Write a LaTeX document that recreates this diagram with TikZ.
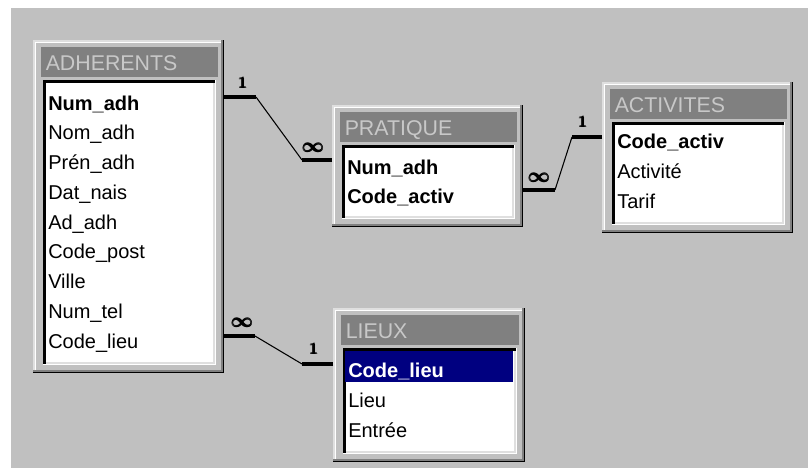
\documentclass[tikz,border=0pt]{standalone}
\usepackage{amsmath}
\usepackage{fontspec}
\newfontfamily\winfont{Liberation Sans}
\definecolor{bggray}{HTML}{C0C0C0}
\definecolor{dkgray}{HTML}{808080}
\definecolor{ltgray}{HTML}{DFDFDF}
\definecolor{titletext}{HTML}{C8C8C8}
\definecolor{selnavy}{HTML}{000080}
\tikzset{
  fieldtext/.style={anchor=base west, inner sep=0pt, font=\winfont\fontsize{15}{18}\selectfont, text=black},
  keytext/.style={fieldtext, font=\winfont\bfseries\fontsize{15}{18}\selectfont},
  seltext/.style={keytext, text=white},
  titlestyle/.style={anchor=base west, inner sep=0pt, font=\winfont\fontsize{16}{19}\selectfont, text=titletext},
  stub/.style={line width=3.3pt},
  relline/.style={line width=0.8pt},
  onelabel/.style={inner sep=0pt, font=\fontsize{12.5}{13}\selectfont\boldmath},
  manylabel/.style={inner sep=0pt, font=\fontsize{15}{15}\selectfont\boldmath},
}
\newcommand\dbtable[6]{%
  \fill[black] (#1,#2) rectangle (#3,#4);
  \fill[dkgray] (#1,#2) rectangle (#3-1.5,#4-1.5);
  \fill[ltgray] (#1,#2) rectangle (#3-3,#4-3);
  \fill[white] (#1+1.5,#2+1.5) rectangle (#3-3,#4-3);
  \fill[bggray] (#1+3,#2+3) rectangle (#3-3,#4-3);
  \coordinate (#6) at (#1,#2);
  \fill[dkgray] (#1+8,#2+7) rectangle (#3-6,#2+37);
  \node[titlestyle] (#6-title) at (#1+12.5,#2+30.5) {#5};
  \fill[white] (#1+10,#2+40) rectangle (#3-8,#4-8);
  \fill[black] (#1+10,#2+40) rectangle (#3-9.5,#4-9.5);
  \fill[ltgray] (#1+12.5,#2+42.5) rectangle (#3-9.5,#4-9.5);
  \fill[white] (#1+12.5,#2+42.5) rectangle (#3-11,#4-11);
}
\newcommand\manysym{$\pmb{\infty}$}
\newcommand\onesym{$\pmb{\mathbf{1}}$}
\begin{document}
\begin{tikzpicture}[x=0.75pt,y=-0.75pt]
\useasboundingbox (0,0) rectangle (808,468);
\fill[white] (0,0) rectangle (808,468);
\fill[bggray] (11,8) rectangle (808,468);

% tables
\dbtable{33}{40}{224}{373}{ADHERENTS}{adh}
\dbtable{332}{105}{523}{227}{PRATIQUE}{pra}
\dbtable{602}{82}{793}{233}{ACTIVITES}{act}
\dbtable{333}{308}{525}{462}{LIEUX}{lie}

% ADHERENTS fields
\node[keytext]   (adh-num)   at (48,110)    {Num\_adh};
\node[fieldtext] (adh-nom)   at (48,139.75) {Nom\_adh};
\node[fieldtext] (adh-pren)  at (48,169.5)  {Prén\_adh};
\node[fieldtext] (adh-dat)   at (48,199.25) {Dat\_nais};
\node[fieldtext] (adh-ad)    at (48,229)    {Ad\_adh};
\node[fieldtext] (adh-cp)    at (48,258.75) {Code\_post};
\node[fieldtext] (adh-ville) at (48,288.5)  {Ville};
\node[fieldtext] (adh-tel)   at (48,318.25) {Num\_tel};
\node[fieldtext] (adh-lieu)  at (48,348)    {Code\_lieu};

% PRATIQUE fields
\node[keytext] (pra-num)   at (347,174)   {Num\_adh};
\node[keytext] (pra-activ) at (347,203.5) {Code\_activ};

% ACTIVITES fields
\node[keytext]   (act-code)  at (617,148) {Code\_activ};
\node[fieldtext] (act-activ) at (617,178) {Activité};
\node[fieldtext] (act-tarif) at (617,208) {Tarif};

% LIEUX fields
\fill[selnavy] (345,351) rectangle (513,382);
\node[seltext]   (lie-code)   at (348,377)   {Code\_lieu};
\node[fieldtext] (lie-lieu)   at (348,407.5) {Lieu};
\node[fieldtext] (lie-entree) at (348,437)   {Entrée};

% connector ports
\coordinate (p1a) at (224,97);
\coordinate (p1b) at (332,160);
\coordinate (p2a) at (523,190);
\coordinate (p2b) at (602,137);
\coordinate (p3a) at (224,336);
\coordinate (p3b) at (333,364);

% ADHERENTS - PRATIQUE
\draw[stub] (p1a) -- ++(32,0) coordinate (k1a);
\draw[stub] (p1b) -- ++(-30,0) coordinate (k1b);
\draw[relline] (k1a) -- (k1b);
\node[onelabel] (one1) at (243,83) {\onesym};
\node[manylabel] (inf1) at (313.5,147.5) {\manysym};

% PRATIQUE - ACTIVITES
\draw[stub] (p2a) -- ++(32,0) coordinate (k2a);
\draw[stub] (p2b) -- ++(-30,0) coordinate (k2b);
\draw[relline] (k2a) -- (k2b);
\node[manylabel] (inf2) at (539.5,177.5) {\manysym};
\node[onelabel] (one2) at (583,122) {\onesym};

% ADHERENTS - LIEUX
\draw[stub] (p3a) -- ++(31,0) coordinate (k3a);
\draw[stub] (p3b) -- ++(-31,0) coordinate (k3b);
\draw[relline] (k3a) -- (k3b);
\node[manylabel] (inf3) at (242.5,323) {\manysym};
\node[onelabel] (one3) at (314,349) {\onesym};
\end{tikzpicture}
\end{document}
